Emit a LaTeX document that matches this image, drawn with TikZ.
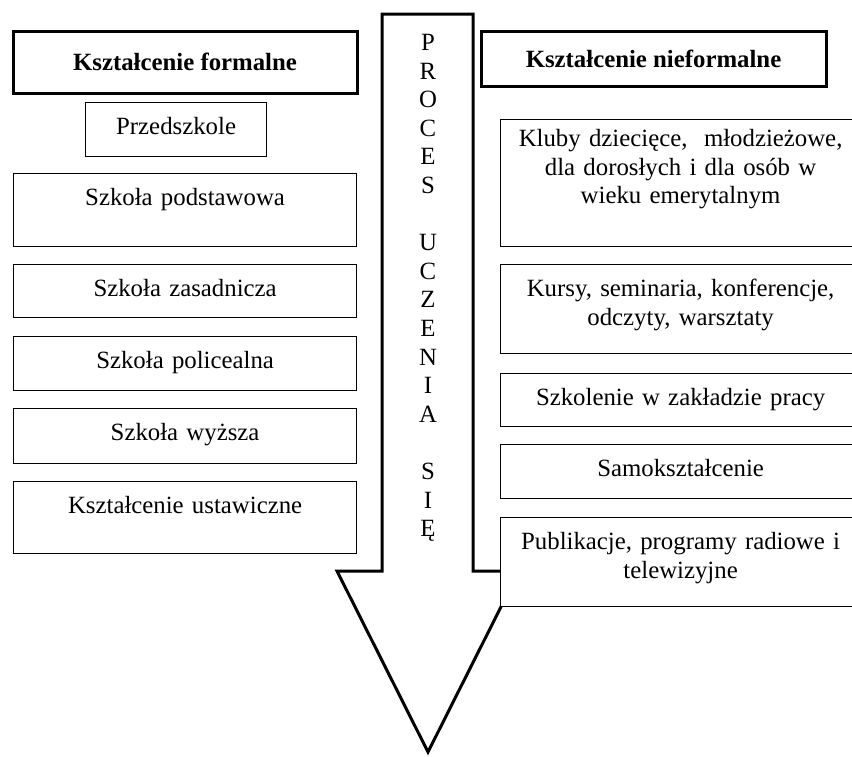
\documentclass[tikz,border=0pt]{standalone}
\usepackage{fontspec}
\setmainfont{Liberation Serif}
\begin{document}
\begin{tikzpicture}[x=0.5pt, y=-0.5pt, font=\fontsize{12.4pt}{14.3pt}\selectfont]
    \tikzset{
	box/.style={draw, line width=0.6pt, fill=white, inner sep=0pt, align=center,
	    anchor=north west, text height=16pt},
	head/.style={draw, line width=1.5pt, fill=white, inner sep=0pt,
	    font=\fontsize{12.4pt}{14.3pt}\selectfont\bfseries},
	lbox/.style={box, text width=171.5pt},
	rbox/.style={box, text width=180pt}
    }
    \useasboundingbox (0,0) rectangle (852,756);
    \clip (0,0) rectangle (852,756);

    \draw [line width=1.5pt, line join=miter, fill=white] (382,14) -- (473,14) -- (473,571) -- (519,571)
	-- (428,752) -- (337,571) -- (382,571) -- cycle;
    \node (proces) at (428,34) [anchor=north, inner sep=0pt, text width=20pt, align=center, text height=8pt]
	{P\\R\\O\\C\\E\\S\\\mbox{}\\U\\C\\Z\\E\\N\\I\\A\\\mbox{}\\S\\I\\Ę};

    \node (formal) at (185,62) [head, minimum width=172pt, minimum height=31pt] {Kształcenie formalne};
    \node (nieformal) at (653.5,58.5) [head, minimum width=172.5pt, minimum height=27.5pt] {Kształcenie nieformalne};

    \node (przedszkole) at (85,102) [box, text width=90.5pt, text depth=11pt] {Przedszkole};
    \node (podstawowa) at (13,173) [lbox, text depth=20.5pt] {Szkoła podstawowa};
    \node (zasadnicza) at (13,264) [lbox, text depth=10.5pt] {Szkoła zasadnicza};
    \node (policealna) at (13,336) [lbox, text depth=11pt] {Szkoła policealna};
    \node (wyzsza) at (13,408) [lbox, text depth=11.5pt] {Szkoła wyższa};
    \node (ustawiczne) at (13,481) [lbox, text depth=20pt] {Kształcenie ustawiczne};

    \node (kluby) at (500,119) [rbox, text height=13.5pt, text depth=50pt]
	{Kluby dziecięce,\ \ młodzieżowe,\\dla dorosłych i dla osób w\\wieku emerytalnym};
    \node (kursy) at (500,264) [rbox, text depth=28.5pt] {Kursy, seminaria, konferencje,\\odczyty, warsztaty};
    \node (szkolenie) at (500,373) [rbox, text depth=10.5pt] {Szkolenie w zakładzie pracy};
    \node (samo) at (500,444) [rbox, text depth=11pt] {Samokształcenie};
    \node (publikacje) at (500,517) [rbox, text depth=28.5pt] {Publikacje, programy radiowe i\\telewizyjne};
\end{tikzpicture}
\end{document}
